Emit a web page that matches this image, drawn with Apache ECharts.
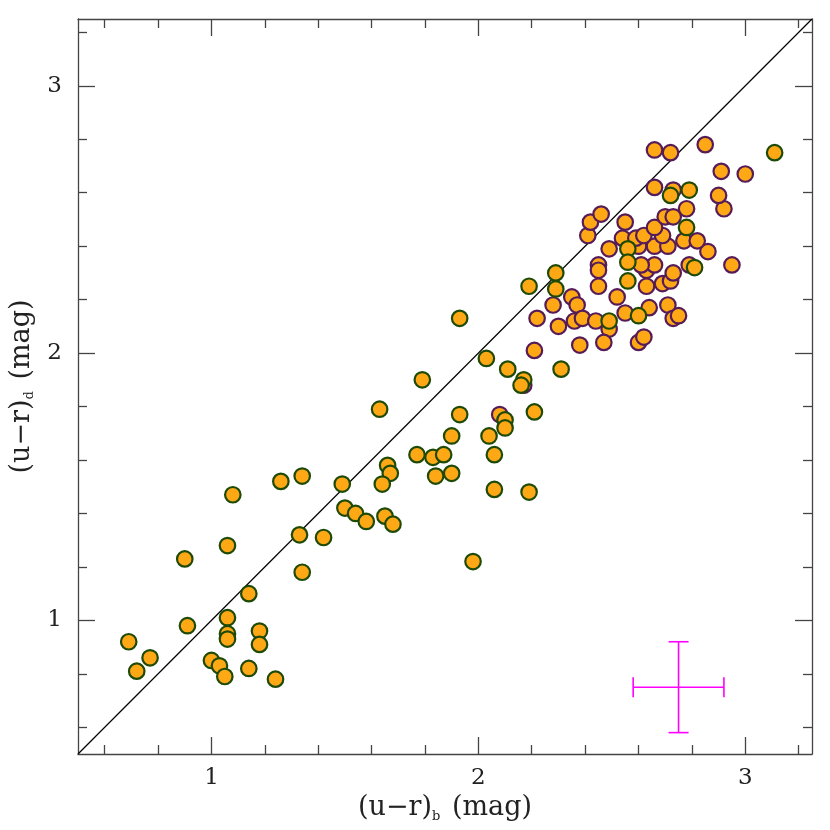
<!DOCTYPE html>
<html>
<head>
<meta charset="utf-8">
<script src="https://cdn.jsdelivr.net/npm/echarts@6/dist/echarts.min.js"></script>
<style>
  html, body { margin: 0; padding: 0; background: #fff; }
  #chart { width: 830px; height: 830px; }
</style>
</head>
<body>
<div id="chart"></div>
<script>
// points with green edge, [(u-r)_b, (u-r)_d]
var greenPoints = [
  [0.69, 0.92], [0.72, 0.81], [0.77, 0.86], [0.90, 1.23], [0.91, 0.98],
  [1.08, 1.47], [1.06, 1.28], [1.06, 1.01], [1.06, 0.95], [1.06, 0.93],
  [1.00, 0.85], [1.03, 0.83], [1.05, 0.79], [1.14, 1.10], [1.18, 0.96],
  [1.18, 0.91], [1.14, 0.82], [1.24, 0.78], [1.26, 1.52], [1.34, 1.54],
  [1.33, 1.32], [1.34, 1.18], [1.42, 1.31], [1.49, 1.51], [1.50, 1.42],
  [1.54, 1.40], [1.58, 1.37], [1.65, 1.39], [1.68, 1.36], [1.63, 1.79],
  [1.66, 1.58], [1.67, 1.55], [1.64, 1.51], [1.77, 1.62], [1.83, 1.61],
  [1.87, 1.62], [1.84, 1.54], [1.90, 1.55], [1.79, 1.90], [1.93, 2.13],
  [1.93, 1.77], [1.90, 1.69], [1.98, 1.22], [2.03, 1.98], [2.11, 1.94],
  [2.17, 1.90], [2.16, 1.88], [2.19, 2.25], [2.29, 2.30], [2.29, 2.24],
  [2.10, 1.75], [2.10, 1.72], [2.04, 1.69], [2.06, 1.62], [2.21, 1.78],
  [2.06, 1.49], [2.19, 1.48], [2.31, 1.94], [2.49, 2.12], [2.60, 2.14],
  [2.56, 2.39], [2.56, 2.34], [2.56, 2.27], [2.78, 2.47], [2.81, 2.32],
  [2.72, 2.59], [2.79, 2.61], [3.11, 2.75]
];
// points with purple edge
var purplePoints = [
  [2.08, 1.77], [2.17, 1.88], [2.21, 2.01], [2.22, 2.13], [2.28, 2.18],
  [2.30, 2.10], [2.35, 2.21], [2.37, 2.18], [2.36, 2.12], [2.39, 2.13],
  [2.44, 2.12], [2.49, 2.09], [2.47, 2.04], [2.38, 2.03], [2.55, 2.15],
  [2.64, 2.17], [2.71, 2.18], [2.73, 2.13], [2.75, 2.14], [2.60, 2.04],
  [2.62, 2.06], [2.52, 2.21], [2.45, 2.25], [2.63, 2.25], [2.69, 2.26],
  [2.72, 2.27], [2.45, 2.33], [2.45, 2.31], [2.63, 2.31], [2.66, 2.33],
  [2.61, 2.33], [2.73, 2.30], [2.79, 2.33], [2.95, 2.33], [2.86, 2.38],
  [2.49, 2.39], [2.60, 2.40], [2.66, 2.40], [2.71, 2.40], [2.77, 2.42],
  [2.82, 2.42], [2.54, 2.43], [2.59, 2.43], [2.62, 2.44], [2.69, 2.44],
  [2.41, 2.44], [2.42, 2.49], [2.46, 2.52], [2.55, 2.49], [2.66, 2.47],
  [2.70, 2.51], [2.73, 2.51], [2.78, 2.54], [2.92, 2.54], [2.90, 2.59],
  [2.66, 2.62], [2.73, 2.61], [2.91, 2.68], [3.00, 2.67], [2.66, 2.76],
  [2.72, 2.75], [2.85, 2.78]
];
// typical error bar: [x, y, xerr, yerr]
var errorBar = [[2.75, 0.75, 0.17, 0.17]];
var oneToOne = [[0.5, 0.5], [3.25, 3.25]];

var axisMin = 0.5, axisMax = 3.25;
var majorTicks = [1, 2, 3];
var minorTicks = [0.6, 0.8, 1.2, 1.4, 1.6, 1.8, 2.2, 2.4, 2.6, 2.8, 3.2];

var axisColor = '#444';
var font = 'DejaVu Serif';

function makeAxis(pos, ticks, len, main) {
  var ax = {
    type: 'value',
    min: axisMin,
    max: axisMax,
    position: pos,
    splitLine: { show: false },
    axisLine: { show: main, onZero: false, lineStyle: { color: axisColor, width: 1.3 } },
    axisTick: { show: true, inside: true, length: len, customValues: ticks, lineStyle: { color: axisColor, width: 1.3 } },
    axisLabel: { show: false }
  };
  return ax;
}

var nameRich = {
  t: { fontFamily: font, fontSize: 27, color: '#222' },
  s: { fontFamily: font, fontSize: 13, color: '#222', padding: [16, 3, 0, 0] }
};

var xMain = makeAxis('bottom', majorTicks, 17, true);
xMain.axisLabel = { show: true, customValues: majorTicks, margin: 13, color: '#222', fontFamily: font, fontSize: 23 };
xMain.name = '{t|(u\u2212r)}{s|b}{t| (mag)}';
xMain.nameLocation = 'middle';
xMain.nameGap = 34;
xMain.nameTextStyle = { rich: nameRich };

var yMain = makeAxis('left', majorTicks, 17, true);
yMain.axisLabel = { show: true, customValues: majorTicks, margin: 16, color: '#222', fontFamily: font, fontSize: 23 };
yMain.name = '{t|(u\u2212r)}{s|d}{t| (mag)}';
yMain.nameLocation = 'middle';
yMain.nameRotate = 90;
yMain.nameGap = 42;
yMain.nameTextStyle = { rich: nameRich };

var chart = echarts.init(document.getElementById('chart'));
chart.setOption({
  animation: false,
  backgroundColor: '#fff',
  grid: { left: 78, right: 18, top: 19, bottom: 76, containLabel: false },
  xAxis: [
    xMain,
    makeAxis('bottom', minorTicks, 9, false),
    makeAxis('top', majorTicks, 17, true),
    makeAxis('top', minorTicks, 9, false)
  ],
  yAxis: [
    yMain,
    makeAxis('left', minorTicks, 9, false),
    makeAxis('right', majorTicks, 17, true),
    makeAxis('right', minorTicks, 9, false)
  ],
  series: [
    {
      type: 'line',
      data: oneToOne,
      symbol: 'none',
      silent: true,
      lineStyle: { color: '#000', width: 1.2 },
      z: 1
    },
    {
      type: 'scatter',
      data: purplePoints,
      symbolSize: 15.5,
      itemStyle: { color: '#ffa815', borderColor: '#561c58', borderWidth: 2.2, opacity: 1 },
      z: 2
    },
    {
      type: 'scatter',
      data: greenPoints,
      symbolSize: 15.5,
      itemStyle: { color: '#ffa815', borderColor: '#1e4a06', borderWidth: 2.2, opacity: 1 },
      z: 3
    },
    {
      type: 'custom',
      data: errorBar,
      encode: { x: 0, y: 1 },
      z: 4,
      renderItem: function (params, api) {
        var x = api.value(0), y = api.value(1), dx = api.value(2), dy = api.value(3);
        var l = api.coord([x - dx, y]), r = api.coord([x + dx, y]);
        var t = api.coord([x, y + dy]), b = api.coord([x, y - dy]);
        var cap = 10;
        var st = { stroke: '#ff00ff', lineWidth: 1.6 };
        function seg(x1, y1, x2, y2) {
          return { type: 'line', shape: { x1: x1, y1: y1, x2: x2, y2: y2 }, style: st };
        }
        return {
          type: 'group',
          children: [
            seg(l[0], l[1], r[0], r[1]),
            seg(t[0], t[1], b[0], b[1]),
            seg(l[0], l[1] - cap, l[0], l[1] + cap),
            seg(r[0], r[1] - cap, r[0], r[1] + cap),
            seg(t[0] - cap, t[1], t[0] + cap, t[1]),
            seg(b[0] - cap, b[1], b[0] + cap, b[1])
          ]
        };
      }
    }
  ]
});
</script>
</body>
</html>
